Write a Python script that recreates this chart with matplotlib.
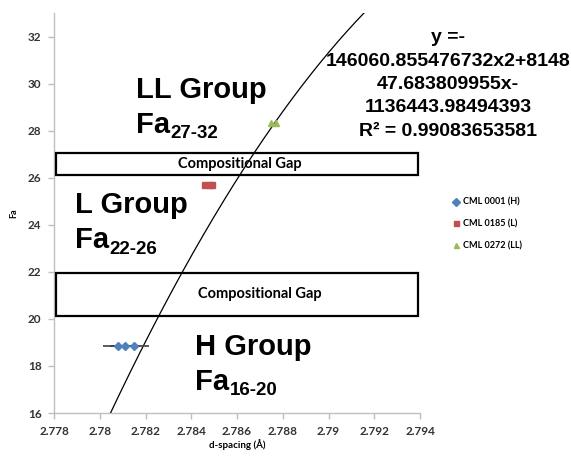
import numpy as np
import matplotlib
matplotlib.use("Agg")
from matplotlib import pyplot as plt
from matplotlib.patches import Rectangle

# olivine Fa content vs d-spacing for the three meteorite samples
h_x = [2.7808, 2.7811, 2.7815]
h_y = [18.85, 18.85, 18.85]
h_xerr = 0.00065
l_x = [2.7846, 2.7848, 2.7849]
l_y = [25.7, 25.7, 25.7]
ll_x = [2.7875, 2.7877]
ll_y = [28.33, 28.33]

# points along the trend curve
trend_x = [2.7806, 2.7825, 2.7833, 2.7866, 2.7879, 2.7888, 2.7914]
trend_y = [16.0, 20.0, 22.0, 26.7, 28.3, 29.9, 33.0]

# compositional gaps (Fa range)
gaps = [(26.13, 27.06), (20.13, 21.96)]

x_ticks = [2.778, 2.78, 2.782, 2.784, 2.786, 2.788, 2.79, 2.792, 2.794]
x_tick_labels = ["2.778", "2.78", "2.782", "2.784", "2.786", "2.788", "2.79", "2.792", "2.794"]
y_ticks = [16, 18, 20, 22, 24, 26, 28, 30, 32]

legend_labels = ["CML 0001 (H)", "CML 0185 (L)", "CML 0272 (LL)"]

equation = ("y =-\n146060.855476732x2+8148\n47.683809955x-\n"
            "1136443.98494393\nR\u00b2 = 0.99083653581")

BLUE, RED, GREEN = "#4F81BD", "#C0504D", "#9BBB59"
AXIS_GRAY = "#BFBFBF"
SANS = "Liberation Sans"
SMALL = "Lato"

fig = plt.figure(figsize=(5.71, 4.65), dpi=100)
ax = fig.add_axes([54 / 571, 52 / 465, 366 / 571, 400 / 465])
ax.set_xlim(2.778, 2.794)
ax.set_ylim(16, 33)

for s in ("top", "right"):
    ax.spines[s].set_visible(False)
for s in ("left", "bottom"):
    ax.spines[s].set_color(AXIS_GRAY)
    ax.spines[s].set_linewidth(1.0)

ax.set_xticks(x_ticks)
ax.set_xticklabels(x_tick_labels)
ax.set_yticks(y_ticks)
ax.tick_params(axis="both", direction="out", length=4, width=1, color=AXIS_GRAY,
               labelsize=8.5, pad=5)
for lab in ax.get_xticklabels() + ax.get_yticklabels():
    lab.set_fontfamily(SMALL)
    lab.set_fontweight("bold")
    lab.set_color("#333333")

ax.set_xlabel("d-spacing (\u00c5)", fontsize=7, fontfamily=SMALL, fontweight="bold", labelpad=2)
ax.set_ylabel("Fa", fontsize=6.5, fontfamily=SMALL, fontweight="bold", labelpad=7)

# gap boxes
for lo, hi in gaps:
    ax.add_patch(Rectangle((2.77807, lo), 2.79393 - 2.77807, hi - lo, fill=False,
                           ec="black", lw=1.6, zorder=3))
ax.text(2.78613, (gaps[0][0] + gaps[0][1]) / 2, "Compositional Gap", ha="center", va="center",
        fontsize=10.5, fontfamily=SMALL, fontweight="bold", zorder=4)
ax.text(2.78701, (gaps[1][0] + gaps[1][1]) / 2, "Compositional Gap", ha="center", va="center",
        fontsize=10.5, fontfamily=SMALL, fontweight="bold", zorder=4)

# trend curve
coef = np.polyfit(trend_x, trend_y, 2)
xs = np.linspace(2.7803, 2.7918, 300)
ax.plot(xs, np.polyval(coef, xs), color="black", lw=0.9, zorder=5)

ax.errorbar(h_x, h_y, xerr=h_xerr, fmt="none", ecolor="#404040", elinewidth=1.2, capsize=0, zorder=6)
h_pts, = ax.plot(h_x, h_y, "D", color=BLUE, ms=4.5, mec=BLUE, ls="none", zorder=7)
l_pts, = ax.plot(l_x, l_y, "s", color=RED, ms=4.5, mec=RED, ls="none", zorder=7)
ll_pts, = ax.plot(ll_x, ll_y, "^", color=GREEN, ms=4.5, mec=GREEN, ls="none", zorder=7)

# group labels with subscript Fa ranges
groups = [
    ("LL Group", "27-32", 2.78158, 29.39, 27.90),
    ("L Group", "22-26", 2.77892, 24.50, 23.01),
    ("H Group", "16-20", 2.78416, 18.46, 16.98),
]
for name, sub, gx, gy, fy in groups:
    ax.text(gx, gy, name, fontsize=21, fontfamily=SANS, fontweight="bold",
            ha="left", va="baseline", zorder=8)
    fa = ax.text(gx, fy, "Fa", fontsize=21, fontfamily=SANS, fontweight="bold",
                 ha="left", va="baseline", zorder=8)
    ax.annotate(sub, xy=(1, 0), xycoords=fa, xytext=(0.5, -2.5), textcoords="offset points",
                fontsize=13.5, fontfamily=SANS, fontweight="bold", ha="left", va="bottom", zorder=8)

fig.text(448 / 571, 1 - 84.5 / 465, equation, ha="center", va="center", fontsize=14,
         fontfamily=SANS, fontweight="bold", linespacing=1.5)

fig.legend([h_pts, l_pts, ll_pts], legend_labels, loc="center left",
           bbox_to_anchor=(444 / 571, 1 - 224 / 465), frameon=False,
           prop={"family": SMALL, "weight": "bold", "size": 6.5},
           handlelength=0.8, handletextpad=0.4, labelspacing=1.4, markerscale=0.8)

fig.savefig("out.png", dpi=100)
